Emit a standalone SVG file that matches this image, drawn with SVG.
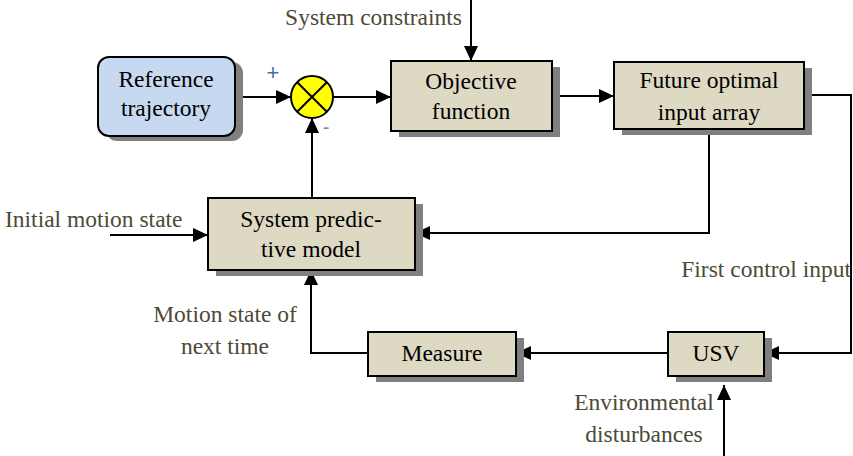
<svg xmlns="http://www.w3.org/2000/svg" width="853" height="456" viewBox="0 0 853 456">
<style>
.box{fill:#ddd9c3;stroke:#000;stroke-width:2}
.sh{fill:#808080}
.t{font-family:"Liberation Serif","Times New Roman",serif;font-size:23.5px;fill:#000;text-anchor:middle}
.l{font-family:"Liberation Serif","Times New Roman",serif;font-size:23.5px;fill:#4d4a36}
.c{fill:none;stroke:#000;stroke-width:2}
</style>
<defs>
<marker id="a" markerUnits="userSpaceOnUse" markerWidth="16" markerHeight="14" refX="15" refY="7" orient="auto">
<path d="M0,0 L15,7 L0,14 Z" fill="#000"/>
</marker>
</defs>
<rect width="853" height="456" fill="#fff"/>
<g id="connectors">
<line class="c" x1="235" y1="97" x2="291" y2="97" marker-end="url(#a)"/>
<line class="c" x1="333" y1="97" x2="391" y2="97" marker-end="url(#a)"/>
<line class="c" x1="471" y1="0" x2="471" y2="61" marker-end="url(#a)"/>
<line class="c" x1="552" y1="96" x2="614" y2="96" marker-end="url(#a)"/>
<polyline class="c" points="804,95 851,95 851,353 764,353" marker-end="url(#a)"/>
<polyline class="c" points="709,129 709,233 415,233" marker-end="url(#a)"/>
<line class="c" x1="312" y1="198" x2="312" y2="118" marker-end="url(#a)"/>
<line class="c" x1="110" y1="235" x2="208" y2="235" marker-end="url(#a)"/>
<line class="c" x1="668" y1="353" x2="516" y2="353" marker-end="url(#a)"/>
<polyline class="c" points="368,353 311,353 311,270" marker-end="url(#a)"/>
<line class="c" x1="724" y1="456" x2="724" y2="385" marker-end="url(#a)"/>
</g>
<g id="reference">
<rect x="106" y="62" width="137" height="79" rx="11" class="sh"/>
<rect x="98" y="57" width="137" height="79" rx="11" fill="#c6d9f1" stroke="#000" stroke-width="2"/>
<text class="t" x="166" y="87">Reference</text>
<text class="t" x="166" y="116">trajectory</text>
</g>
<g id="sum">
<circle cx="312" cy="97" r="21" fill="#ffff00" stroke="#000" stroke-width="2"/>
<line class="c" x1="297.2" y1="82.2" x2="326.8" y2="111.8"/>
<line class="c" x1="326.8" y1="82.2" x2="297.2" y2="111.8"/>
<text x="273" y="80" font-family="Liberation Sans,sans-serif" font-size="22" fill="#4a6fa5" text-anchor="middle">+</text>
<text x="326" y="134" font-family="Liberation Sans,sans-serif" font-size="20" fill="#948a54" text-anchor="middle">-</text>
</g>
<g id="objective">
<rect x="399" y="67" width="161" height="70" class="sh"/>
<rect x="391" y="61" width="161" height="70" class="box"/>
<text class="t" x="471" y="89">Objective</text>
<text class="t" x="471" y="119">function</text>
</g>
<g id="future">
<rect x="622" y="68" width="190" height="67" class="sh"/>
<rect x="614" y="62" width="190" height="67" class="box"/>
<text class="t" x="709" y="88">Future optimal</text>
<text class="t" x="709" y="120">input array</text>
</g>
<g id="predictive">
<rect x="216" y="204" width="207" height="72" class="sh"/>
<rect x="208" y="198" width="207" height="72" class="box"/>
<text class="t" x="311" y="227">System predic-</text>
<text class="t" x="311" y="257">tive model</text>
</g>
<g id="measure">
<rect x="376" y="338" width="148" height="44" class="sh"/>
<rect x="368" y="332" width="148" height="44" class="box"/>
<text class="t" x="442" y="361">Measure</text>
</g>
<g id="usv">
<rect x="676" y="338" width="96" height="44" class="sh"/>
<rect x="668" y="332" width="96" height="44" class="box"/>
<text class="t" x="716" y="361">USV</text>
</g>
<g id="labels">
<text class="l" x="462" y="25" text-anchor="end">System constraints</text>
<text class="l" x="5" y="227">Initial motion state</text>
<text class="l" x="851" y="277" text-anchor="end">First control input</text>
<text class="l" x="225" y="322" text-anchor="middle">Motion state of</text>
<text class="l" x="225" y="354" text-anchor="middle">next time</text>
<text class="l" x="644" y="410" text-anchor="middle">Environmental</text>
<text class="l" x="644" y="442" text-anchor="middle">disturbances</text>
</g>
</svg>
